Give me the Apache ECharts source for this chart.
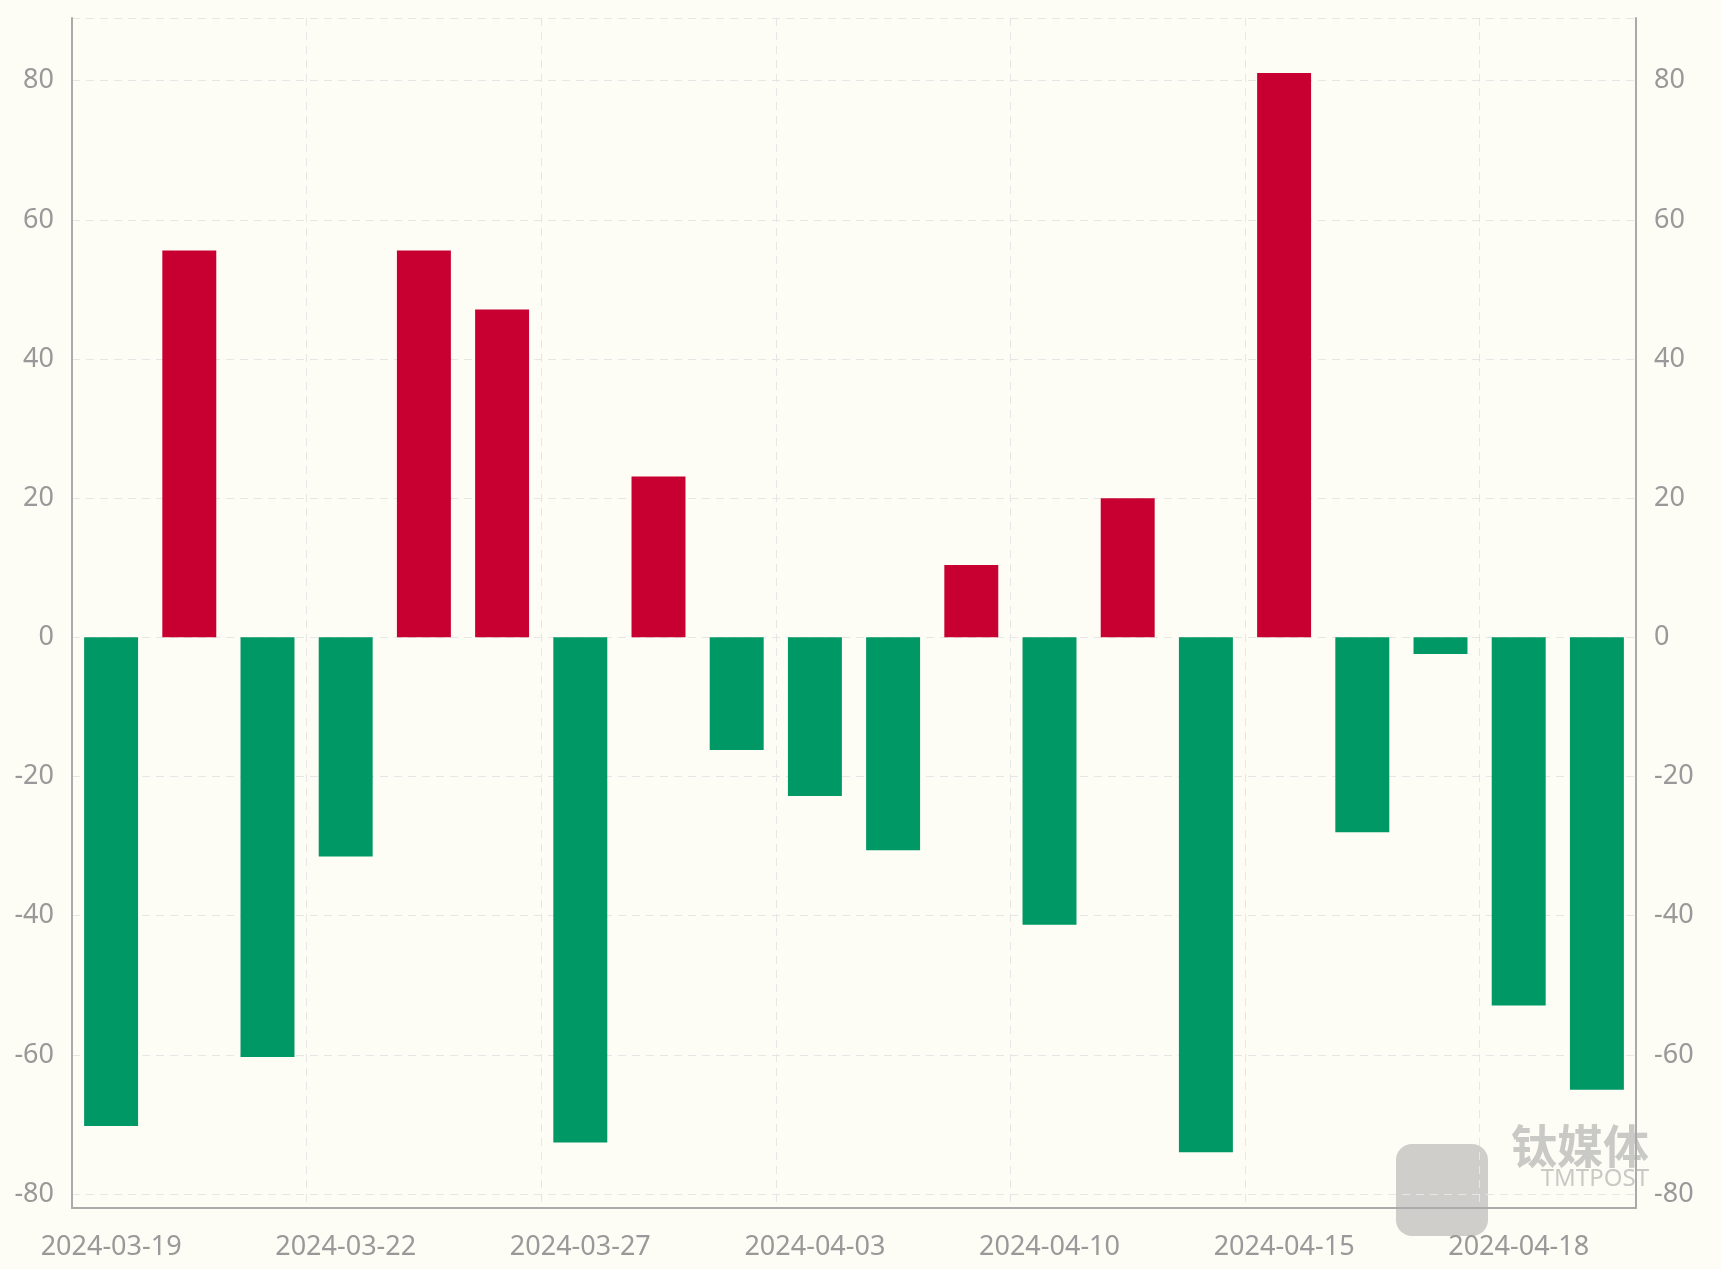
<!DOCTYPE html>
<html>
<head>
<meta charset="utf-8">
<script src="https://cdn.jsdelivr.net/npm/echarts@6/dist/echarts.min.js"></script>
<style>
  html, body { margin: 0; padding: 0; background: #fdfcf5; }
  #chart { width: 1721px; height: 1269px; }
</style>
</head>
<body>
<div id="chart"></div>
<script>
let dates = [
  '2024-03-19', '2024-03-20', '2024-03-21', '2024-03-22', '2024-03-25',
  '2024-03-26', '2024-03-27', '2024-03-28', '2024-04-01', '2024-04-03',
  '2024-04-08', '2024-04-09', '2024-04-10', '2024-04-11', '2024-04-12',
  '2024-04-15', '2024-04-16', '2024-04-17', '2024-04-18', '2024-04-19',
]
let values = [
  -70.2, 55.6, -60.3, -31.5, 55.6, 47.1, -72.6, 23.1, -16.2, -22.8,
  -30.6, 10.4, -41.3, 20.0, -74.0, 81.1, -28.0, -2.4, -52.9, -65.0,
]
let upColor = '#c80032'
let downColor = '#009865'

let labelStyle = { color: '#999', fontSize: 27, fontFamily: 'Noto Sans' }
let splitStyle = { show: true, lineStyle: { color: '#e6e6e6', type: [8, 6] } }

function valueAxis(position) {
  return {
    type: 'value',
    position: position,
    min: -82,
    max: 89,
    splitNumber: 8,
    axisLine: { show: true, lineStyle: { color: '#aaa', width: 2 } },
    axisTick: { show: false },
    axisLabel: Object.assign({ showMinLabel: false, showMaxLabel: false, margin: 18 }, labelStyle),
    splitLine: splitStyle,
  }
}

let chart = echarts.init(document.getElementById('chart'))
chart.setOption({
  backgroundColor: '#fdfcf5',
  animation: false,
  grid: { left: 72, right: 85, top: 18, bottom: 61 },
  xAxis: {
    type: 'category',
    data: dates,
    axisLine: { onZero: false, lineStyle: { color: '#aaa', width: 2 } },
    axisTick: { show: false },
    axisLabel: Object.assign({ interval: 2, margin: 26 }, labelStyle),
    splitLine: Object.assign({ interval: 2 }, splitStyle),
  },
  yAxis: [valueAxis('left'), valueAxis('right')],
  graphic: [
    {
      type: 'text', right: 72, bottom: 100,
      style: { text: '钛媒体', fontSize: 46, fontWeight: 'bold', fill: 'rgba(150,150,150,0.5)', fontFamily: 'Noto Sans CJK SC' }
    },
    {
      type: 'text', right: 72, bottom: 78,
      style: { text: 'TMTPOST', fontSize: 24, fill: 'rgba(150,150,150,0.5)', fontFamily: 'Noto Sans' }
    },
    {
      type: 'rect', right: 233, bottom: 33,
      shape: { width: 92, height: 92, r: 16 },
      style: { fill: 'rgba(150,150,150,0.45)' }
    },
  ],
  series: [
    {
      type: 'bar',
      barWidth: '69%',
      data: values.map(v => ({ value: v, itemStyle: { color: v >= 0 ? upColor : downColor } })),
    },
  ],
})
</script>
</body>
</html>
